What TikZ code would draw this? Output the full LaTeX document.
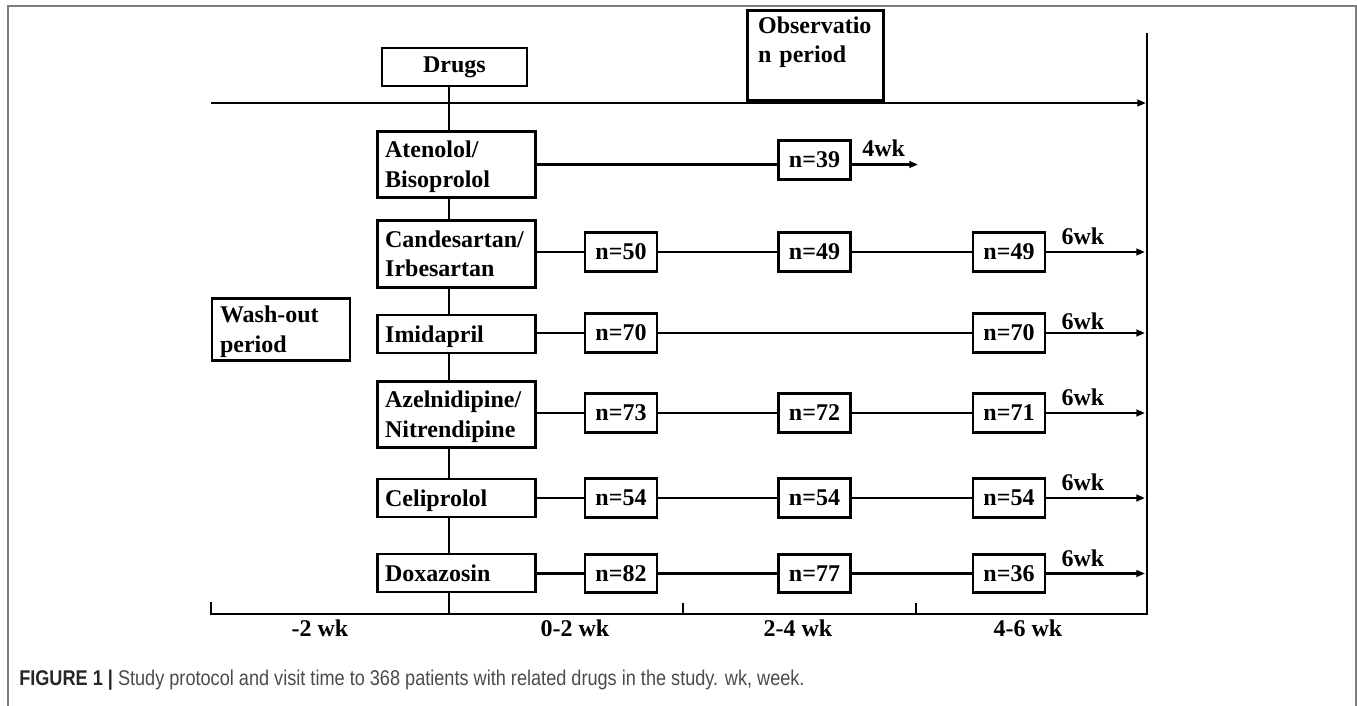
\documentclass[tikz,border=0pt]{standalone}
\usepackage{fontspec}
\setmainfont{Liberation Serif}
\newfontfamily\capfont{Liberation Sans}
\usepackage{tikz}
\usetikzlibrary{positioning,arrows.meta,calc}
\definecolor{framegray}{RGB}{125,125,125}
\definecolor{capgray}{RGB}{75,75,75}

\tikzset{
  drugbox/.style={draw,rectangle,line width=2.2pt,align=left,text width=107pt,inner xsep=6pt,inner ysep=2pt,minimum height=28.5pt,text height=12pt,text depth=0pt,font=\fontsize{18}{22}\selectfont\bfseries},
  twoline/.style={minimum height=50pt,text depth=22pt},
  nbox/.style={draw,rectangle,line width=2.2pt,minimum width=54pt,minimum height=29pt,inner sep=0pt,font=\fontsize{18}{22}\selectfont\bfseries},
  link/.style={line width=1.9pt},
  go/.style={line width=1.9pt,-{Triangle[length=6.5pt,width=5pt]}},
  wklabel/.style={inner sep=0pt,font=\fontsize{18}{22}\selectfont\bfseries},
}

\begin{document}
\begin{tikzpicture}[x=0.75pt,y=0.75pt,yscale=-1,xscale=1]
  \useasboundingbox (0,0) rectangle (1357,706);

  % outer frame
  \draw[framegray,line width=1.4pt] (8,730) -- (8,6) -- (1356,6) -- (1356,730);

  % time axis points
  \coordinate (spine) at (449,0);
  \coordinate (tl) at (211,103);
  \coordinate (tr) at (1146,103);
  \coordinate (rtop) at (1147,33);
  \coordinate (rbot) at (1147,614);
  \coordinate (lbot) at (211,614);
  \coordinate (ltick) at (211,602);
  \coordinate (tick1) at (683,603);
  \coordinate (tick2) at (916,603);
  \coordinate (tip) at (1145,0);

  % Header boxes
  \node[drugbox,align=center,text width=96.75pt,text depth=4pt] (drugs) at (454.5,67) {Drugs};
  \node[drugbox,anchor=north west,text width=86pt,inner xsep=8pt,inner ysep=4pt,minimum height=0pt,text height=13pt,text depth=46.5pt] (obs) at (746,9) {Observatio\\n period};
  \node[drugbox,twoline,text width=91.5pt,minimum height=47pt] (wash) at (281,329.5) {Wash-out\\period};

  % Drug boxes
  \node[drugbox,twoline] (aten) at (456.5,164.5) {Atenolol/\\Bisoprolol};
  \node[drugbox,twoline] (cand) at (456.5,254) {Candesartan/\\Irbesartan};
  \node[drugbox] (imid) at (456.5,334) {Imidapril};
  \node[drugbox,twoline] (azel) at (456.5,414.5) {Azelnidipine/\\Nitrendipine};
  \node[drugbox] (celi) at (456.5,498) {Celiprolol};
  \node[drugbox] (doxa) at (456.5,573) {Doxazosin};

  % Count boxes
  \node[nbox] (aten2) at (814.5,160) {n=39};
  \node[nbox] (cand1) at (621,252) {n=50};
  \node[nbox] (cand2) at (814.5,252) {n=49};
  \node[nbox] (cand3) at (1009,252) {n=49};
  \node[nbox] (imid1) at (621,333) {n=70};
  \node[nbox] (imid3) at (1009,333) {n=70};
  \node[nbox] (azel1) at (621,413) {n=73};
  \node[nbox] (azel2) at (814.5,413) {n=72};
  \node[nbox] (azel3) at (1009,413) {n=71};
  \node[nbox] (celi1) at (621,498) {n=54};
  \node[nbox] (celi2) at (814.5,498) {n=54};
  \node[nbox] (celi3) at (1009,498) {n=54};
  \node[nbox] (doxa1) at (621,573.5) {n=82};
  \node[nbox] (doxa2) at (814.5,573.5) {n=77};
  \node[nbox] (doxa3) at (1009,573.5) {n=36};

  % Spine
  \draw[link] (drugs.south -| spine) -- (aten.north -| spine);
  \draw[link] (aten.south -| spine) -- (cand.north -| spine);
  \draw[link] (cand.south -| spine) -- (imid.north -| spine);
  \draw[link] (imid.south -| spine) -- (azel.north -| spine);
  \draw[link] (azel.south -| spine) -- (celi.north -| spine);
  \draw[link] (celi.south -| spine) -- (doxa.north -| spine);
  \draw[link] (doxa.south -| spine) -- (lbot -| spine);

  % Time arrow and axis
  \draw[go] (tl) -- (tr);
  \draw[link] (ltick) -- (lbot) -- (rbot) -- (rtop);
  \draw[link] (tick1) -- (tick1 |- lbot);
  \draw[link] (tick2) -- (tick2 |- lbot);

  % Rows
  \draw[link] (aten.east) -- (aten.east -| aten2.west);
  \draw[go] (aten2.east |- aten.east) -- ++(66,0) node[wklabel,pos=0.48,above=4.5pt] (wk4) {4wk};

  \draw[link] (cand.east |- cand1) -- (cand1) (cand1) -- (cand2) (cand2) -- (cand3);
  \draw[go] (cand3.east) -- (cand3.east -| tip) node[wklabel,pos=0.37,above=4.5pt] (wk6a) {6wk};

  \draw[link] (imid.east |- imid1) -- (imid1) (imid1) -- (imid3);
  \draw[go] (imid3.east) -- (imid3.east -| tip) node[wklabel,pos=0.37,above=1.5pt] (wk6b) {6wk};

  \draw[link] (azel.east |- azel1) -- (azel1) (azel1) -- (azel2) (azel2) -- (azel3);
  \draw[go] (azel3.east) -- (azel3.east -| tip) node[wklabel,pos=0.37,above=4.5pt] (wk6c) {6wk};

  \draw[link] (celi.east |- celi1) -- (celi1) (celi1) -- (celi2) (celi2) -- (celi3);
  \draw[go] (celi3.east) -- (celi3.east -| tip) node[wklabel,pos=0.37,above=4.5pt] (wk6d) {6wk};

  \draw[link] (doxa.east |- doxa1) -- (doxa1) (doxa1) -- (doxa2) (doxa2) -- (doxa3);
  \draw[go] (doxa3.east) -- (doxa3.east -| tip) node[wklabel,pos=0.37,above=4.5pt] (wk6e) {6wk};

  % Axis labels
  \node[wklabel] (lab0) at (320,628) {-2 wk};
  \node[wklabel] (lab1) at (575,628) {0-2 wk};
  \node[wklabel] (lab2) at (798,628) {2-4 wk};
  \node[wklabel] (lab3) at (1028,628) {4-6 wk};

  % Caption
  \node[anchor=west,inner sep=0pt,font=\capfont\fontsize{16}{18}\selectfont] (cap) at (19,680)
    {\resizebox{589pt}{\height}{\textcolor{black!85}{\bfseries FIGURE 1 |} \textcolor{capgray}{Study protocol and visit time to 368 patients with related drugs in the study. wk, week.}}};
\end{tikzpicture}
\end{document}
